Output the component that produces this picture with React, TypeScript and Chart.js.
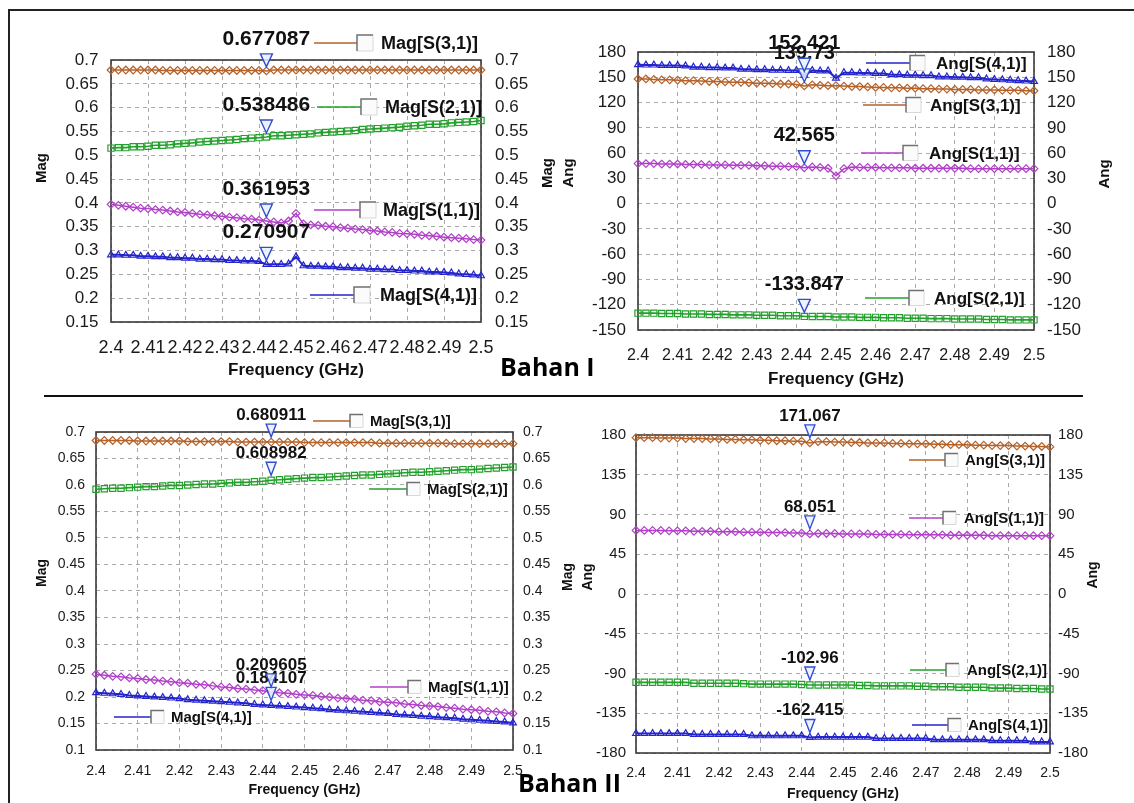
import React, { useEffect, useRef } from 'react';
import { Chart, registerables } from 'chart.js';

Chart.register(...registerables);

const FONT = "'Liberation Sans', Arial, Helvetica, sans-serif";

// ---------- shared axis data ----------
const freq = [
  2.4, 2.402, 2.404, 2.406, 2.408, 2.41, 2.412, 2.414, 2.416, 2.418,
  2.42, 2.422, 2.424, 2.426, 2.428, 2.43, 2.432, 2.434, 2.436, 2.438,
  2.44, 2.442, 2.444, 2.446, 2.448, 2.45, 2.452, 2.454, 2.456, 2.458,
  2.46, 2.462, 2.464, 2.466, 2.468, 2.47, 2.472, 2.474, 2.476, 2.478,
  2.48, 2.482, 2.484, 2.486, 2.488, 2.49, 2.492, 2.494, 2.496, 2.498, 2.5,
];
const markerIndex = 21; // 2.442 GHz
const freqTicks = [2.4, 2.41, 2.42, 2.43, 2.44, 2.45, 2.46, 2.47, 2.48, 2.49, 2.5];
const magTicksI = [0.15, 0.2, 0.25, 0.3, 0.35, 0.4, 0.45, 0.5, 0.55, 0.6, 0.65, 0.7];
const angTicksI = [-150, -120, -90, -60, -30, 0, 30, 60, 90, 120, 150, 180];
const magTicksII = [0.1, 0.15, 0.2, 0.25, 0.3, 0.35, 0.4, 0.45, 0.5, 0.55, 0.6, 0.65, 0.7];
const angTicksII = [-180, -135, -90, -45, 0, 45, 90, 135, 180];
const sNames = { s11: 'S(1,1)', s21: 'S(2,1)', s31: 'S(3,1)', s41: 'S(4,1)' };

// ---------- Bahan I : Mag ----------
const b1MagS31 = [
  0.679, 0.679, 0.679, 0.679, 0.679, 0.679, 0.679, 0.678, 0.678, 0.678,
  0.678, 0.678, 0.678, 0.678, 0.678, 0.678, 0.678, 0.678, 0.678, 0.678,
  0.678, 0.677087, 0.679, 0.679, 0.679, 0.679, 0.679, 0.679, 0.679, 0.679,
  0.679, 0.679, 0.679, 0.679, 0.679, 0.679, 0.679, 0.679, 0.679, 0.679,
  0.679, 0.679, 0.679, 0.679, 0.679, 0.679, 0.679, 0.679, 0.679, 0.679, 0.679,
];
const b1MagS21 = [
  0.515, 0.516, 0.516, 0.518, 0.518, 0.519, 0.521, 0.521, 0.522, 0.524,
  0.525, 0.526, 0.528, 0.529, 0.53, 0.531, 0.532, 0.533, 0.535, 0.536,
  0.537, 0.538486, 0.541, 0.541, 0.542, 0.543, 0.544, 0.545, 0.547, 0.548,
  0.549, 0.55, 0.551, 0.552, 0.554, 0.555, 0.556, 0.557, 0.558, 0.559,
  0.561, 0.562, 0.563, 0.565, 0.565, 0.566, 0.568, 0.569, 0.57, 0.571, 0.573,
];
const b1MagS11 = [
  0.397, 0.395, 0.393, 0.391, 0.389, 0.388, 0.386, 0.385, 0.383, 0.381,
  0.38, 0.378, 0.376, 0.375, 0.373, 0.372, 0.37, 0.369, 0.367, 0.366,
  0.364, 0.361953, 0.36, 0.358, 0.362, 0.378, 0.356, 0.354, 0.353, 0.351,
  0.35, 0.348, 0.347, 0.345, 0.344, 0.342, 0.341, 0.339, 0.338, 0.336,
  0.335, 0.334, 0.332, 0.331, 0.33, 0.328, 0.327, 0.326, 0.325, 0.323, 0.322,
];
const b1MagS41 = [
  0.291, 0.291, 0.29, 0.29, 0.288, 0.288, 0.287, 0.287, 0.285, 0.285,
  0.284, 0.284, 0.282, 0.282, 0.281, 0.281, 0.279, 0.279, 0.278, 0.278,
  0.277, 0.270907, 0.271, 0.271, 0.272, 0.287, 0.268, 0.267, 0.267, 0.266,
  0.266, 0.264, 0.264, 0.263, 0.263, 0.261, 0.261, 0.26, 0.26, 0.258,
  0.258, 0.257, 0.257, 0.255, 0.255, 0.254, 0.253, 0.251, 0.25, 0.249, 0.247,
];
const b1MagMarkers = { s31: '0.677087', s21: '0.538486', s11: '0.361953', s41: '0.270907' };

// ---------- Bahan I : Ang ----------
const b1AngS41 = [
  165, 164.5, 164.5, 164, 164, 164, 163.5, 162, 162, 161.5,
  161.5, 161, 161, 159.5, 159.5, 159, 159, 158.5, 158.5, 158,
  158, 152.421, 158, 157.5, 157.5, 149, 155.5, 155.5, 155, 155,
  154.5, 154.5, 153, 153, 152.5, 152.5, 152, 152, 150.5, 150.5,
  150, 150, 149.5, 149.5, 148, 147.5, 147, 146.5, 146, 145.5, 145,
];
const b1AngS31 = [
  148, 148, 147.5, 147, 147, 146.5, 146, 146, 145.5, 145,
  145, 144.5, 144, 144, 143.5, 143, 143, 142.5, 142, 142,
  141.5, 139.73, 141, 140.5, 140, 140, 139.5, 139, 139, 138.5,
  138, 138, 137.5, 137.5, 137, 137, 136.5, 136.5, 136, 136,
  135.5, 135.5, 135.5, 135, 135, 135, 134.5, 134.5, 134.5, 134, 134,
];
const b1AngS11 = [
  47.5, 47.5, 47.5, 47, 47, 47, 46.5, 46.5, 46.5, 46,
  46, 46, 45.5, 45.5, 45.5, 45, 45, 44.5, 44.5, 44,
  44, 42.565, 43.5, 43, 42, 33, 41.5, 43.5, 43, 43,
  43, 42.5, 42.5, 42.5, 42.5, 42, 42, 42, 42, 42,
  42, 42, 41.5, 41.5, 41.5, 41.5, 41.5, 41.5, 41.5, 41.5, 41.5,
];
const b1AngS21 = [
  -130, -130, -130, -130.5, -130.5, -130.5, -131, -131, -131, -131.5,
  -131.5, -131.5, -132, -132, -132, -132.5, -132.5, -132.5, -133, -133,
  -133, -133.847, -134, -134, -134, -134.5, -134.5, -134.5, -135, -135,
  -135, -135.5, -135.5, -135.5, -136, -136, -136, -136.5, -136.5, -136.5,
  -137, -137, -137, -137, -137.5, -137.5, -137.5, -138, -138, -138, -138,
];
const b1AngMarkers = { s41: '152.421', s31: '139.73', s11: '42.565', s21: '-133.847' };

// ---------- Bahan II : Mag ----------
const b2MagS31 = [
  0.684, 0.684, 0.684, 0.684, 0.684, 0.683, 0.683, 0.683, 0.683, 0.683,
  0.683, 0.682, 0.682, 0.682, 0.682, 0.682, 0.682, 0.681, 0.681, 0.681,
  0.681, 0.680911, 0.681, 0.681, 0.681, 0.68, 0.68, 0.68, 0.68, 0.68,
  0.68, 0.68, 0.68, 0.68, 0.679, 0.679, 0.679, 0.679, 0.679, 0.679,
  0.679, 0.679, 0.679, 0.678, 0.678, 0.678, 0.678, 0.678, 0.678, 0.678, 0.678,
];
const b2MagS21 = [
  0.592, 0.593, 0.594, 0.594, 0.595, 0.596, 0.597, 0.597, 0.598, 0.599,
  0.599, 0.6, 0.601, 0.602, 0.602, 0.603, 0.604, 0.605, 0.605, 0.606,
  0.607, 0.608982, 0.61, 0.611, 0.612, 0.613, 0.614, 0.614, 0.615, 0.616,
  0.617, 0.618, 0.619, 0.619, 0.62, 0.621, 0.622, 0.623, 0.624, 0.624,
  0.625, 0.626, 0.627, 0.628, 0.629, 0.629, 0.63, 0.631, 0.632, 0.633, 0.634,
];
const b2MagS11 = [
  0.243, 0.241, 0.239, 0.238, 0.236, 0.235, 0.233, 0.232, 0.23, 0.229,
  0.227, 0.226, 0.224, 0.223, 0.221, 0.219, 0.218, 0.216, 0.215, 0.213,
  0.212, 0.209605, 0.208, 0.207, 0.205, 0.204, 0.203, 0.201, 0.2, 0.198,
  0.197, 0.196, 0.194, 0.193, 0.191, 0.19, 0.189, 0.187, 0.186, 0.184,
  0.183, 0.182, 0.18, 0.179, 0.177, 0.176, 0.175, 0.173, 0.172, 0.17, 0.169,
];
const b2MagS41 = [
  0.208, 0.207, 0.206, 0.205, 0.203, 0.202, 0.201, 0.2, 0.199, 0.198,
  0.197, 0.195, 0.194, 0.193, 0.192, 0.191, 0.19, 0.189, 0.188, 0.186,
  0.185, 0.184107, 0.183, 0.182, 0.181, 0.18, 0.179, 0.178, 0.176, 0.175,
  0.174, 0.173, 0.172, 0.171, 0.17, 0.169, 0.167, 0.166, 0.165, 0.164,
  0.163, 0.162, 0.161, 0.16, 0.158, 0.157, 0.156, 0.155, 0.154, 0.153, 0.151,
];
const b2MagMarkers = { s31: '0.680911', s21: '0.608982', s11: '0.209605', s41: '0.184107' };

// ---------- Bahan II : Ang ----------
const b2AngS31 = [
  177, 177, 177, 176.5, 176.5, 176.5, 176, 176, 176, 175.5,
  175.5, 175, 175, 174.5, 174.5, 174, 174, 173.5, 173.5, 173,
  173, 171.067, 172.5, 172.5, 172, 172, 171.5, 171.5, 171, 171,
  171, 170.5, 170.5, 170, 170, 170, 169.5, 169.5, 169, 169,
  169, 168.5, 168.5, 168, 168, 168, 167.5, 167.5, 167, 167, 166.5,
];
const b2AngS11 = [
  72, 72, 72, 72, 71.5, 71.5, 71.5, 71, 71, 71,
  70.5, 70.5, 70.5, 70, 70, 70, 69.5, 69.5, 69.5, 69,
  69, 68.051, 68.5, 68.5, 68.5, 68, 68, 68, 68, 67.5,
  67.5, 67.5, 67.5, 67, 67, 67, 67, 67, 66.5, 66.5,
  66.5, 66.5, 66.5, 66, 66, 66, 66, 66, 66, 66, 66,
];
const b2AngS21 = [
  -100, -100, -100, -100, -100, -100, -100, -101, -101, -101,
  -101, -101, -101, -101.5, -102, -102, -102, -102, -102, -102,
  -102.5, -102.96, -103, -103, -103, -103, -103, -103.5, -103.5, -104,
  -104, -104, -104, -104, -104.5, -104.5, -105, -105, -105, -105.5,
  -105.5, -105.5, -105.5, -106.5, -106.5, -106.5, -107, -107, -107, -107.5, -107.5,
];
const b2AngS41 = [
  -158, -158, -158, -158, -158, -158, -158, -159, -159, -159,
  -159, -159, -159, -159, -160.5, -160.5, -160.5, -160.5, -160.5, -160.5,
  -160.5, -162.415, -162, -162, -162, -162, -162, -162, -162, -163.5,
  -163.5, -163.5, -163.5, -163.5, -163.5, -163.5, -165, -165, -165, -165,
  -165, -165, -165, -166, -166, -166, -166, -166, -167.5, -167.5, -167.5,
];
const b2AngMarkers = { s31: '171.067', s11: '68.051', s21: '-102.96', s41: '-162.415' };

// ---------- styling ----------
const seriesStyle = {
  s31: { color: '#b4622a', point: 'rectRot', radius: 3.8, lw: 1.5 },
  s21: { color: '#23a02b', point: 'rect', radius: 4.4, lw: 1.6 },
  s11: { color: '#b040c8', point: 'rectRot', radius: 3.8, lw: 1.5 },
  s41: { color: '#2424cc', point: 'triangle', radius: 3.9, lw: 2 },
};

type Key = 's11' | 's21' | 's31' | 's41';

interface LegendPos { key: Key; x1: number; x2: number; y: number; box: number; tx: number; }
interface Panel {
  canvas: { x: number; y: number; w: number; h: number };
  plot: { l: number; r: number; t: number; b: number };
  yMin: number; yMax: number; yTicks: number[];
  prefix: string;
  values: Record<Key, number[]>;
  markers: Record<Key, string>;
  order: Key[];
  legends: LegendPos[];
  yTitles: { text: string; x: number; y: number }[];
  f: { yTick: number; xTick: number; xTitle: number; yTitle: number; legend: number; marker: number };
  pad: { yl: number; yr: number; xt: number; xTitle: number };
  mk: { rise: number; top: number; tip: number; hw: number };
  boxSize: number;
}

const panels: Panel[] = [
  {
    canvas: { x: 10, y: 12, w: 525, h: 383 },
    plot: { l: 111, r: 481, t: 60, b: 322 },
    yMin: 0.15, yMax: 0.7, yTicks: magTicksI, prefix: 'Mag',
    values: { s31: b1MagS31, s21: b1MagS21, s11: b1MagS11, s41: b1MagS41 },
    markers: b1MagMarkers,
    order: ['s41', 's11', 's21', 's31'],
    legends: [
      { key: 's31', x1: 314, x2: 357, y: 43, box: 357, tx: 381 },
      { key: 's21', x1: 317, x2: 361, y: 107, box: 361, tx: 385 },
      { key: 's11', x1: 314, x2: 360, y: 210, box: 360, tx: 383 },
      { key: 's41', x1: 310, x2: 354, y: 295, box: 354, tx: 380 },
    ],
    yTitles: [{ text: 'Mag', x: 42, y: 168 }],
    f: { yTick: 17, xTick: 18, xTitle: 17, yTitle: 15, legend: 18, marker: 21 },
    pad: { yl: 12.5, yr: 14, xt: 15.2, xTitle: 14.8 },
    mk: { rise: 32, top: 17, tip: 4, hw: 6 },
    boxSize: 16,
  },
  {
    canvas: { x: 535, y: 12, w: 599, h: 383 },
    plot: { l: 638, r: 1034, t: 52, b: 330 },
    yMin: -150, yMax: 180, yTicks: angTicksI, prefix: 'Ang',
    values: { s31: b1AngS31, s21: b1AngS21, s11: b1AngS11, s41: b1AngS41 },
    markers: b1AngMarkers,
    order: ['s21', 's11', 's31', 's41'],
    legends: [
      { key: 's41', x1: 866, x2: 910, y: 63, box: 910, tx: 936 },
      { key: 's31', x1: 863, x2: 906, y: 105, box: 906, tx: 930 },
      { key: 's11', x1: 861, x2: 903, y: 153, box: 903, tx: 929 },
      { key: 's21', x1: 865, x2: 909, y: 298, box: 909, tx: 934 },
    ],
    yTitles: [
      { text: 'Mag', x: 548, y: 173 },
      { text: 'Ang', x: 569, y: 173 },
      { text: 'Ang', x: 1105, y: 174 },
    ],
    f: { yTick: 17, xTick: 16, xTitle: 17, yTitle: 15, legend: 17, marker: 20 },
    pad: { yl: 12, yr: 13, xt: 16.4, xTitle: 5.8 },
    mk: { rise: 32, top: 17, tip: 4, hw: 6 },
    boxSize: 15,
  },
  {
    canvas: { x: 10, y: 398, w: 545, h: 405 },
    plot: { l: 96, r: 513, t: 432, b: 750 },
    yMin: 0.1, yMax: 0.7, yTicks: magTicksII, prefix: 'Mag',
    values: { s31: b2MagS31, s21: b2MagS21, s11: b2MagS11, s41: b2MagS41 },
    markers: b2MagMarkers,
    order: ['s41', 's11', 's21', 's31'],
    legends: [
      { key: 's31', x1: 313, x2: 350, y: 421, box: 350, tx: 370 },
      { key: 's21', x1: 369, x2: 407, y: 489, box: 407, tx: 427 },
      { key: 's11', x1: 370, x2: 408, y: 687, box: 408, tx: 428 },
      { key: 's41', x1: 114, x2: 151, y: 717, box: 151, tx: 171 },
    ],
    yTitles: [{ text: 'Mag', x: 42, y: 573 }],
    f: { yTick: 14, xTick: 14, xTitle: 14, yTitle: 14, legend: 15, marker: 17 },
    pad: { yl: 11, yr: 10, xt: 12.6, xTitle: 4.6 },
    mk: { rise: 27, top: 18, tip: 5, hw: 5 },
    boxSize: 13,
  },
  {
    canvas: { x: 555, y: 398, w: 579, h: 405 },
    plot: { l: 636, r: 1050, t: 435, b: 753 },
    yMin: -180, yMax: 180, yTicks: angTicksII, prefix: 'Ang',
    values: { s31: b2AngS31, s21: b2AngS21, s11: b2AngS11, s41: b2AngS41 },
    markers: b2AngMarkers,
    order: ['s41', 's21', 's11', 's31'],
    legends: [
      { key: 's31', x1: 909, x2: 945, y: 460, box: 945, tx: 965 },
      { key: 's11', x1: 909, x2: 943, y: 518, box: 943, tx: 964 },
      { key: 's21', x1: 910, x2: 946, y: 670, box: 946, tx: 967 },
      { key: 's41', x1: 912, x2: 948, y: 725, box: 948, tx: 968 },
    ],
    yTitles: [
      { text: 'Mag', x: 568, y: 577 },
      { text: 'Ang', x: 588, y: 577 },
      { text: 'Ang', x: 1093, y: 575 },
    ],
    f: { yTick: 15, xTick: 14, xTitle: 14, yTitle: 14, legend: 15, marker: 17 },
    pad: { yl: 10, yr: 8, xt: 11.6, xTitle: 0 },
    mk: { rise: 27, top: 18, tip: 5, hw: 5 },
    boxSize: 13,
  },
];

function makeOverlay(p: Panel) {
  const ox = p.canvas.x;
  const oy = p.canvas.y;
  return {
    id: 'overlay',
    beforeDatasetsDraw(chart: any) {
      const { ctx, chartArea: a } = chart;
      ctx.save();
      ctx.strokeStyle = '#3a3a3a';
      ctx.lineWidth = 1.6;
      ctx.strokeRect(a.left, a.top, a.right - a.left, a.bottom - a.top);
      ctx.restore();
    },
    afterDatasetsDraw(chart: any) {
      const ctx: CanvasRenderingContext2D = chart.ctx;
      ctx.save();
      // y-axis titles (rotated, reading bottom to top)
      for (const t of p.yTitles) {
        ctx.save();
        ctx.translate(t.x - ox, t.y - oy);
        ctx.rotate(-Math.PI / 2);
        ctx.font = `bold ${p.f.yTitle}px ${FONT}`;
        ctx.fillStyle = '#111';
        ctx.textAlign = 'center';
        ctx.textBaseline = 'middle';
        ctx.fillText(t.text, 0, 0);
        ctx.restore();
      }
      // legends
      for (const lg of p.legends) {
        const st = seriesStyle[lg.key];
        const y = lg.y - oy;
        ctx.strokeStyle = st.color;
        ctx.lineWidth = 1.5;
        ctx.beginPath();
        ctx.moveTo(lg.x1 - ox, y);
        ctx.lineTo(lg.x2 - ox, y);
        ctx.stroke();
        const bs = p.boxSize;
        const bx = lg.box - ox;
        const by = y - bs / 2;
        ctx.fillStyle = '#fbfbfb';
        ctx.fillRect(bx, by, bs, bs);
        ctx.strokeStyle = '#d8d8d8';
        ctx.lineWidth = 1;
        ctx.beginPath();
        ctx.moveTo(bx + bs, by);
        ctx.lineTo(bx + bs, by + bs);
        ctx.lineTo(bx, by + bs);
        ctx.stroke();
        ctx.strokeStyle = '#707070';
        ctx.lineWidth = 1.5;
        ctx.beginPath();
        ctx.moveTo(bx, by + bs);
        ctx.lineTo(bx, by);
        ctx.lineTo(bx + bs, by);
        ctx.stroke();
        ctx.fillStyle = '#111';
        ctx.font = `bold ${p.f.legend}px ${FONT}`;
        ctx.textAlign = 'left';
        ctx.textBaseline = 'middle';
        ctx.fillText(`${p.prefix}[${sNames[lg.key]}]`, lg.tx - ox, y + 1);
      }
      // markers at 2.442 GHz
      const xs = chart.scales.x;
      const ys = chart.scales.y;
      for (const key of p.order) {
        const px = xs.getPixelForValue(freq[markerIndex]);
        const py = ys.getPixelForValue(p.values[key][markerIndex]);
        ctx.beginPath();
        ctx.moveTo(px - p.mk.hw, py - p.mk.top);
        ctx.lineTo(px + p.mk.hw, py - p.mk.top);
        ctx.lineTo(px, py - p.mk.tip);
        ctx.closePath();
        ctx.fillStyle = 'rgba(235,240,255,0.85)';
        ctx.fill();
        ctx.strokeStyle = '#2f4fcf';
        ctx.lineWidth = 1.4;
        ctx.stroke();
        ctx.fillStyle = '#111';
        ctx.font = `bold ${p.f.marker}px ${FONT}`;
        ctx.textAlign = 'center';
        ctx.textBaseline = 'middle';
        ctx.fillText(p.markers[key], px, py - p.mk.rise);
      }
      ctx.restore();
    },
  };
}

function buildConfig(p: Panel): any {
  const leftW = p.plot.l - p.canvas.x;
  const rightW = p.canvas.x + p.canvas.w - p.plot.r;
  const padTop = p.plot.t - p.canvas.y;
  const bottomH = p.canvas.y + p.canvas.h - p.plot.b;
  const tickColor = '#1a1a1a';
  const gridColor = '#a9a9a9';
  const datasets = p.order.map((key) => {
    const st = seriesStyle[key];
    return {
      label: `${p.prefix}[${sNames[key]}]`,
      data: freq.map((f, i) => ({ x: f, y: p.values[key][i] })),
      borderColor: st.color,
      backgroundColor: 'rgba(255,255,255,0)',
      pointBorderColor: st.color,
      pointBackgroundColor: 'rgba(255,255,255,0)',
      pointStyle: st.point,
      pointRadius: st.radius,
      pointBorderWidth: 1.2,
      borderWidth: st.lw,
      tension: 0,
      clip: false,
    };
  });
  const yTickOpts = (padding: number) => ({
    padding,
    color: tickColor,
    font: { family: FONT, size: p.f.yTick },
    callback: (v: number) => String(v),
  });
  return {
    type: 'line',
    data: { datasets },
    plugins: [makeOverlay(p)],
    options: {
      animation: false,
      responsive: false,
      devicePixelRatio: 1,
      layout: { padding: { top: padTop, left: 0, right: 0, bottom: 0 } },
      plugins: { legend: { display: false }, tooltip: { enabled: false } },
      scales: {
        x: {
          type: 'linear',
          min: 2.4,
          max: 2.5,
          afterBuildTicks: (sc: any) => { sc.ticks = freqTicks.map((v) => ({ value: v })); },
          afterFit: (sc: any) => { sc.height = bottomH; },
          ticks: {
            autoSkip: false, maxRotation: 0, minRotation: 0,
            padding: p.pad.xt, color: tickColor,
            font: { family: FONT, size: p.f.xTick },
            callback: (v: number) => String(v),
          },
          grid: { color: gridColor, drawTicks: false, lineWidth: 1 },
          border: { display: false, dash: [4, 4] },
          title: {
            display: true, text: 'Frequency (GHz)', color: '#111',
            font: { family: FONT, size: p.f.xTitle, weight: 'bold' },
            padding: { top: 0, bottom: p.pad.xTitle },
          },
        },
        y: {
          type: 'linear', position: 'left', min: p.yMin, max: p.yMax,
          afterBuildTicks: (sc: any) => { sc.ticks = p.yTicks.map((v) => ({ value: v })); },
          afterFit: (sc: any) => { sc.width = leftW; },
          ticks: yTickOpts(p.pad.yl),
          grid: { color: gridColor, drawTicks: false, lineWidth: 1 },
          border: { display: false, dash: [4, 4] },
        },
        y2: {
          type: 'linear', position: 'right', min: p.yMin, max: p.yMax,
          afterBuildTicks: (sc: any) => { sc.ticks = p.yTicks.map((v) => ({ value: v })); },
          afterFit: (sc: any) => { sc.width = rightW; },
          ticks: yTickOpts(p.pad.yr),
          grid: { display: false, drawTicks: false },
          border: { display: false },
        },
      },
    },
  };
}

function PanelChart({ p }: { p: Panel }) {
  const ref = useRef<HTMLCanvasElement>(null);
  useEffect(() => {
    if (!ref.current) return;
    const chart = new Chart(ref.current, buildConfig(p));
    return () => chart.destroy();
  }, [p]);
  return (
    <canvas
      ref={ref}
      width={p.canvas.w}
      height={p.canvas.h}
      style={{ position: 'absolute', left: p.canvas.x, top: p.canvas.y, width: p.canvas.w, height: p.canvas.h }}
    />
  );
}

const bahanStyle: React.CSSProperties = {
  position: 'absolute',
  fontFamily: "'Open Sans', 'Noto Sans', sans-serif",
  fontWeight: 700,
  fontSize: 25,
  lineHeight: 1,
  color: '#000',
  whiteSpace: 'nowrap',
};

export default function App() {
  return (
    <div style={{ position: 'fixed', left: 0, top: 0, width: 1134, height: 803, background: '#fff', overflow: 'hidden' }}>
      <div style={{ position: 'absolute', left: 8, top: 9, width: 1126, height: 2, background: '#222' }} />
      <div style={{ position: 'absolute', left: 8, top: 9, width: 2, height: 794, background: '#222' }} />
      <div style={{ position: 'absolute', left: 44, top: 395, width: 1039, height: 2, background: '#111' }} />
      {panels.map((p, i) => (
        <PanelChart key={i} p={p} />
      ))}
      <div style={{ ...bahanStyle, left: 500, top: 354 }}>Bahan I</div>
      <div style={{ ...bahanStyle, left: 518, top: 770 }}>Bahan II</div>
    </div>
  );
}
